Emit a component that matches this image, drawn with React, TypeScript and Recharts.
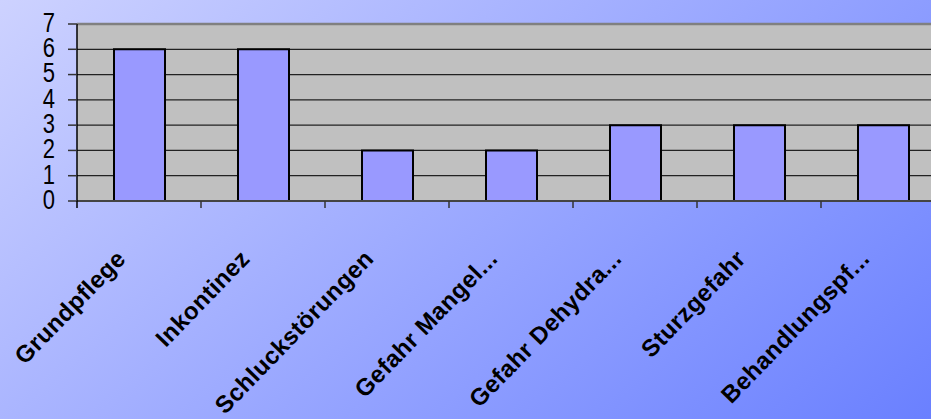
import React from "react";
import { BarChart, Bar, XAxis, YAxis, CartesianGrid, ReferenceLine } from "recharts";

const categories = [
  "Grundpflege",
  "Inkontinez",
  "Schluckstörungen",
  "Gefahr Mangel...",
  "Gefahr Dehydra...",
  "Sturzgefahr",
  "Behandlungspf...",
];
const values = [6, 6, 2, 2, 3, 3, 3];
const yTicks = [0, 1, 2, 3, 4, 5, 6, 7];

const data = categories.map((name, i) => ({ name, value: values[i] }));

const CHART_W = 960;
const CHART_H = 419;
const PLOT_LEFT = 77;
const PLOT_RIGHT = 945;
const PLOT_TOP = 24;
const PLOT_BOTTOM = 201;
const HALF_BAND = (PLOT_RIGHT - PLOT_LEFT) / categories.length / 2;

const YTick = (props: any) => {
  const { x, y, payload } = props;
  return (
    <g transform={`translate(${x},${y - 2}) scale(1,1.25)`}>
      <text
        x={0}
        y={0}
        dy="0.36em"
        textAnchor="end"
        fontSize={22}
        fontFamily="'Liberation Sans', Arial, sans-serif"
        fill="#000"
      >
        {payload.value}
      </text>
    </g>
  );
};

const XTick = (props: any) => {
  const { x, y, payload, index } = props;
  const ax = x - 12;
  const ay = y + 59;
  return (
    <g>
      {index === 0 && (
        <line x1={x - HALF_BAND} x2={x - HALF_BAND} y1={y} y2={y + 7} stroke="#000" strokeWidth={1.5} />
      )}
      <line x1={x + HALF_BAND} x2={x + HALF_BAND} y1={y} y2={y + 7} stroke="#333" strokeWidth={1.5} />
      <text
        x={ax}
        y={ay}
        transform={`rotate(-46, ${ax}, ${ay})`}
        textAnchor="end"
        fontSize={24}
        fontWeight="bold"
        letterSpacing={0.4}
        fontFamily="'Liberation Sans', Arial, sans-serif"
        fill="#000"
      >
        {payload.value}
      </text>
    </g>
  );
};

export default function App() {
  return (
    <div
      style={{
        position: "absolute",
        left: 0,
        top: 0,
        width: 931,
        height: 419,
        overflow: "hidden",
        background: "linear-gradient(140deg, #cdd2ff 0%, #6a80ff 100%)",
      }}
    >
      <BarChart
        width={CHART_W}
        height={CHART_H}
        data={data}
        margin={{ top: PLOT_TOP, right: CHART_W - PLOT_RIGHT, left: 0, bottom: CHART_H - PLOT_BOTTOM - 100 }}
        barSize={51}
      >
        <CartesianGrid vertical={false} stroke="#222" strokeWidth={1.3} fill="#c0c0c0" fillOpacity={1} />
        <XAxis
          dataKey="name"
          interval={0}
          height={100}
          tickLine={false}
          tickSize={0}
          tickMargin={0}
          axisLine={{ stroke: "#444", strokeWidth: 2 }}
          tick={<XTick />}
        />
        <YAxis
          type="number"
          domain={[0, 7]}
          ticks={yTicks}
          interval={0}
          width={PLOT_LEFT}
          tickSize={9}
          tickMargin={13}
          axisLine={{ stroke: "#000", strokeWidth: 1.5 }}
          tickLine={{ stroke: "#333", strokeWidth: 1.5 }}
          tick={<YTick />}
        />
        <ReferenceLine y={7} stroke="#808080" strokeWidth={2.5} />
        <Bar dataKey="value" fill="#9999ff" stroke="#000" strokeWidth={2} isAnimationActive={false} />
      </BarChart>
    </div>
  );
}
